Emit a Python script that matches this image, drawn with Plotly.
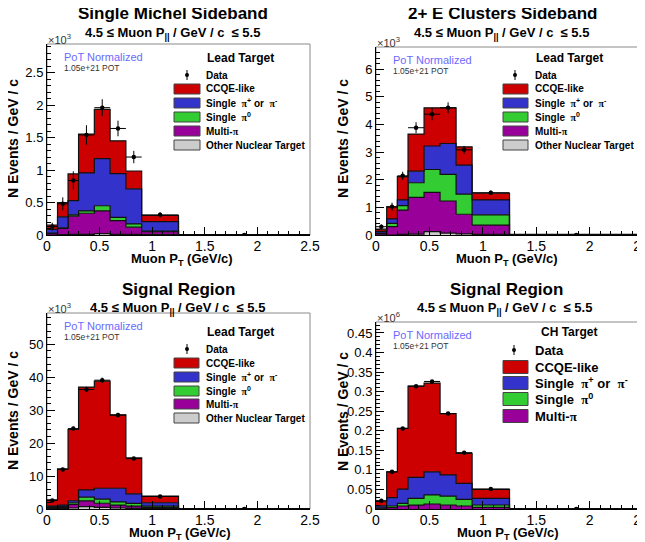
import numpy as np
import plotly.graph_objects as go

W, H = 645, 542
OX, OY = 8, 8  # page body margin compensation
FONT = "Liberation Sans, Arial, Helvetica, sans-serif"

# ---------------- data ----------------
pt_edges = [0, 0.1, 0.2, 0.3, 0.45, 0.6, 0.75, 0.9, 1.25, 2.5]
pt_centers = [0.05, 0.15, 0.25, 0.375, 0.525, 0.675, 0.825, 1.075, 1.875]
xtick_vals = [0, 0.5, 1, 1.5, 2, 2.5]

# Single Michel Sideband (x10^3)
michel_other = [0.0, 0.005, 0.01, 0.01, 0.02, 0.01, 0.01, 0.005, 0.0]
michel_multi = [0.025, 0.095, 0.28, 0.325, 0.35, 0.21, 0.11, 0.045, 0.002]
michel_pi0 = [0.003, 0.01, 0.02, 0.035, 0.08, 0.05, 0.05, 0.01, 0.0]
michel_pipm = [0.06, 0.17, 0.22, 0.585, 0.725, 0.675, 0.54, 0.145, 0.002]
michel_ccqe = [0.066, 0.22, 0.41, 0.60, 0.76, 0.505, 0.275, 0.095, 0.002]
michel_data = [0.13, 0.48, 0.84, 1.54, 1.96, 1.64, 1.20, 0.31, 0.0]
michel_err = [0.06, 0.10, 0.14, 0.15, 0.13, 0.12, 0.095, 0.04, 0.01]

# 2+ E Clusters Sideband (x10^3)
clus_other = [0.0, 0.0, 0.02, 0.03, 0.12, 0.07, 0.04, 0.02, 0.0]
clus_multi = [0.05, 0.30, 0.88, 1.33, 1.42, 1.16, 0.71, 0.34, 0.005]
clus_pi0 = [0.02, 0.12, 0.16, 0.53, 0.83, 0.96, 0.73, 0.37, 0.005]
clus_pipm = [0.06, 0.16, 0.21, 0.42, 0.85, 1.12, 1.05, 0.54, 0.005]
clus_ccqe = [0.08, 0.44, 0.84, 1.34, 1.38, 1.29, 0.66, 0.24, 0.005]
clus_data = [0.30, 1.02, 2.14, 3.88, 4.37, 4.60, 3.08, 1.53, 0.0]
clus_err = [0.08, 0.15, 0.15, 0.20, 0.22, 0.20, 0.14, 0.08, 0.02]

# Signal Region, Lead Target (x10^3)
lead_other = [0.1, 0.1, 0.3, 0.7, 0.5, 0.3, 0.2, 0.1, 0.0]
lead_multi = [0.3, 0.3, 1.1, 1.75, 1.25, 0.9, 0.7, 0.3, 0.0]
lead_pi0 = [0.2, 0.3, 0.5, 1.15, 1.25, 0.95, 0.8, 0.5, 0.0]
lead_pipm = [0.3, 0.5, 0.6, 2.2, 3.3, 4.15, 2.9, 1.0, 0.02]
lead_ccqe = [1.9, 11.0, 21.7, 31.2, 32.5, 22.3, 10.9, 2.0, 0.05]
lead_data = [2.6, 12.0, 24.4, 36.3, 39.1, 28.5, 15.3, 3.8, 0.0]
lead_err = [0.3, 0.5, 0.6, 0.8, 0.8, 0.7, 0.5, 0.3, 0.05]

# Signal Region, CH Target (x10^6)
ch_multi = [0.002, 0.0034, 0.0077, 0.010, 0.0128, 0.0102, 0.0077, 0.0043, 0.0]
ch_pi0 = [0.001, 0.0043, 0.0068, 0.017, 0.0232, 0.0228, 0.017, 0.0059, 0.0]
ch_pipm = [0.005, 0.0213, 0.0365, 0.054, 0.059, 0.054, 0.0408, 0.0168, 0.0002]
ch_ccqe = [0.0124, 0.066, 0.155, 0.233, 0.227, 0.157, 0.0765, 0.023, 0.0005]
ch_data = [0.021, 0.095, 0.206, 0.314, 0.326, 0.244, 0.144, 0.051, 0.0]
ch_err = [0.001, 0.002, 0.003, 0.003, 0.003, 0.003, 0.002, 0.0015, 0.0005]

# ---------------- style ----------------
C_OTHER = "#cccccc"
C_MULTI = "#990099"
C_PI0 = "#33cc33"
C_PIPM = "#3333cc"
C_CCQE = "#cc0000"

PI = "<span style='font-family:Liberation Serif, DejaVu Serif, serif'>π</span>"
LBL_CCQE = "CCQE-like"
LBL_PIPM = "Single  " + PI + "<sup>+</sup> or  " + PI + "<sup>-</sup>"
LBL_PI0 = "Single  " + PI + "<sup>0</sup>"
LBL_MULTI = "Multi-" + PI
LBL_OTHER = "Other Nuclear Target"

SUBTITLE = "<b>4.5 ≤ Muon P<sub>||</sub> / GeV / c  ≤ 5.5</b>"

panels = [
    dict(title="Single Michel Sideband", target="Lead Target",
         comps=[(LBL_OTHER, C_OTHER, michel_other), (LBL_MULTI, C_MULTI, michel_multi),
                (LBL_PI0, C_PI0, michel_pi0), (LBL_PIPM, C_PIPM, michel_pipm),
                (LBL_CCQE, C_CCQE, michel_ccqe)],
         data=michel_data, err=michel_err, ymax=2.94, dtick=0.5, minor=0.1, exp="3",
         px=(47, 310), py=(44, 235), title_x=173, title_y=14, sub_y=33,
         xt_x=182, xt_y=259, yt_x=13, yt_y=139,
         leg=dict(sw=(174, 200), tx=204, mx=187, hy=58, rows=[75, 89, 103, 117, 131, 145], fs=10, hh=5)),
    dict(title="2+ E Clusters Sideband", target="Lead Target",
         comps=[(LBL_OTHER, C_OTHER, clus_other), (LBL_MULTI, C_MULTI, clus_multi),
                (LBL_PI0, C_PI0, clus_pi0), (LBL_PIPM, C_PIPM, clus_pipm),
                (LBL_CCQE, C_CCQE, clus_ccqe)],
         data=clus_data, err=clus_err, ymax=6.8, dtick=1, minor=0.2, exp="3",
         px=(376, 643), py=(47, 235), title_x=502, title_y=14, sub_y=33,
         xt_x=507, xt_y=259, yt_x=343, yt_y=139,
         leg=dict(sw=(503, 528), tx=533, mx=515, hy=58, rows=[75, 89, 103, 117, 131, 145], fs=10, hh=5)),
    dict(title="Signal Region", target="Lead Target",
         comps=[(LBL_OTHER, C_OTHER, lead_other), (LBL_MULTI, C_MULTI, lead_multi),
                (LBL_PI0, C_PI0, lead_pi0), (LBL_PIPM, C_PIPM, lead_pipm),
                (LBL_CCQE, C_CCQE, lead_ccqe)],
         data=lead_data, err=lead_err, ymax=59.5, dtick=10, minor=2, exp="3",
         px=(47, 310), py=(313, 509), title_x=178, title_y=290, sub_y=308,
         xt_x=180, xt_y=533, yt_x=13, yt_y=411,
         leg=dict(sw=(174, 199), tx=204, mx=187, hy=332, rows=[349, 363, 377, 391, 404, 418], fs=10, hh=5)),
    dict(title="Signal Region", target="CH Target",
         comps=[(LBL_MULTI, C_MULTI, ch_multi), (LBL_PI0, C_PI0, ch_pi0),
                (LBL_PIPM, C_PIPM, ch_pipm), (LBL_CCQE, C_CCQE, ch_ccqe)],
         data=ch_data, err=ch_err, ymax=0.478, dtick=0.05, minor=0.01, exp="6",
         px=(376, 643), py=(322, 509), title_x=506, title_y=290, sub_y=308,
         xt_x=508, xt_y=533, yt_x=343, yt_y=412,
         leg=dict(sw=(503, 528), tx=533, mx=514, hy=332, rows=[350, 367, 383, 399, 416], fs=13, hh=6.5)),
]


def fx(x):
    return (x - OX) / W


def fy(y):
    return 1 - (y - OY) / H


fig = go.Figure()
annotations = []
shapes = []


def text(x, y, s, size, color="black", xanchor="center", angle=0):
    annotations.append(dict(xref="paper", yref="paper", x=fx(x), y=fy(y), text=s,
                            showarrow=False, xanchor=xanchor, yanchor="middle",
                            textangle=angle, font=dict(family=FONT, size=size, color=color)))


def rect(x0, y0, x1, y1, fill, line="#444444", width=1, layer="above"):
    shapes.append(dict(type="rect", xref="paper", yref="paper", x0=fx(x0), x1=fx(x1),
                       y0=fy(y1), y1=fy(y0), fillcolor=fill,
                       line=dict(color=line, width=width), layer=layer))


half_w = [(pt_edges[i + 1] - pt_edges[i]) / 2 for i in range(len(pt_centers))]

layout_axes = {}
for i, p in enumerate(panels, start=1):
    xa = "x" if i == 1 else f"x{i}"
    ya = "y" if i == 1 else f"y{i}"
    # stacked step histograms
    cum = np.zeros(len(pt_centers))
    for j, (name, color, vals) in enumerate(p["comps"]):
        cum = cum + np.array(vals)
        ys = list(cum) + [cum[-1]]
        fig.add_trace(go.Scatter(
            x=pt_edges, y=ys, xaxis=xa, yaxis=ya, mode="lines",
            line=dict(shape="hv", color="#111111", width=1.2),
            fill="tozeroy" if j == 0 else "tonexty", fillcolor=color,
            showlegend=False, hoverinfo="skip"))
    # data points
    fig.add_trace(go.Scatter(
        x=pt_centers, y=p["data"], xaxis=xa, yaxis=ya, mode="markers",
        marker=dict(color="black", size=4.5),
        error_y=dict(type="data", array=p["err"], color="black", thickness=1, width=0),
        error_x=dict(type="data", array=half_w, color="black", thickness=1, width=0),
        showlegend=False))

    x0, x1 = p["px"]
    y0, y1 = p["py"]
    xkey = "xaxis" if i == 1 else f"xaxis{i}"
    ykey = "yaxis" if i == 1 else f"yaxis{i}"
    layout_axes[xkey] = dict(
        domain=[fx(x0), fx(x1)], anchor=ya, range=[0, 2.5], automargin=False,
        tickmode="array", tickvals=xtick_vals, ticktext=[str(v) for v in xtick_vals],
        ticks="inside", ticklen=8, tickcolor="black", tickwidth=1,
        ticklabelstandoff=-2,
        showline=True, linecolor="black", linewidth=1,
        showgrid=False, zeroline=False,
        tickfont=dict(family=FONT, size=14, color="black"),
        minor=dict(ticks="inside", ticklen=4, dtick=0.1, tick0=0, tickcolor="black", showgrid=False),
        fixedrange=True)
    layout_axes[ykey] = dict(
        domain=[fy(y1), fy(y0)], anchor=xa, range=[0, p["ymax"]], automargin=False,
        dtick=p["dtick"], tick0=0,
        ticks="inside", ticklen=8, tickcolor="black", tickwidth=1,
        showline=True, linecolor="black", linewidth=1,
        showgrid=False, zeroline=False,
        tickfont=dict(family=FONT, size=13, color="black"),
        minor=dict(ticks="inside", ticklen=4, dtick=p["minor"], tick0=0, tickcolor="black", showgrid=False),
        fixedrange=True)

    # frame
    rect(x0, y0, x1, y1, "rgba(0,0,0,0)", line="#8a8a8a", width=1, layer="below")

    # titles
    text(p["title_x"], p["title_y"], "<b>" + p["title"] + "</b>", 17)
    text(p["title_x"] - 1, p["sub_y"], SUBTITLE, 13)
    text(p["xt_x"], p["xt_y"], "<b>Muon P<sub>T</sub> (GeV/c)</b>", 13)
    text(p["yt_x"], p["yt_y"], "<b>N Events / GeV / c</b>", 14, angle=-90)
    text(x0 - 1, y0 - 5, "×10<sup>" + p["exp"] + "</sup>", 11, color="#333333", xanchor="left")
    text(x0 + 15, y0 + 13, "PoT Normalized", 11, color="#6a6aff", xanchor="left")
    text(x0 + 15, y0 + 24, "1.05e+21 POT", 8.5, color="#333333", xanchor="left")

    # legend
    lg = p["leg"]
    text(lg["tx"] + (6 if p["target"] == "CH Target" else 1), lg["hy"], "<b>" + p["target"] + "</b>",
         12, xanchor="left")
    rows = lg["rows"]
    mx = lg["mx"]
    dy = rows[0]
    shapes.append(dict(type="line", xref="paper", yref="paper", x0=fx(mx), x1=fx(mx),
                       y0=fy(dy - 5), y1=fy(dy + 5), line=dict(color="black", width=1)))
    shapes.append(dict(type="circle", xref="paper", yref="paper", x0=fx(mx - 2), x1=fx(mx + 2),
                       y0=fy(dy + 2), y1=fy(dy - 2), fillcolor="black", line=dict(color="black", width=0)))
    text(lg["tx"], dy, "<b>Data</b>", lg["fs"], xanchor="left")
    for (name, color, vals), ry in zip(reversed(p["comps"]), rows[1:]):
        rect(lg["sw"][0], ry - lg["hh"], lg["sw"][1], ry + lg["hh"], color, line="#444444", width=1)
        text(lg["tx"], ry, "<b>" + name + "</b>", lg["fs"], xanchor="left")

fig.update_layout(
    template="none",
    width=W, height=H,
    margin=dict(l=0, r=0, t=0, b=0, autoexpand=False),
    paper_bgcolor="white", plot_bgcolor="rgba(0,0,0,0)",
    showlegend=False,
    annotations=annotations, shapes=shapes,
    font=dict(family=FONT),
    **layout_axes)

fig.write_html("out.html")
